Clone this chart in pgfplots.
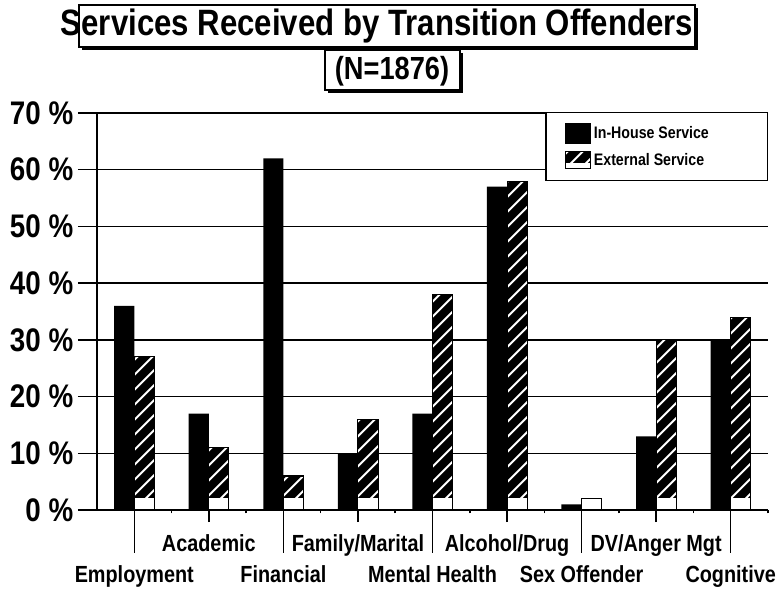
\documentclass[border=0pt]{standalone}
\usepackage{fontspec}
\setmainfont{Liberation Sans}[FakeStretch=0.85]
\usepackage{pgfplots}
\pgfplotsset{compat=1.18}

\pgfplotstableread{
idx inhouse external
0 36 27
1 17 11
2 62 6
3 10 16
4 17 38
5 57 58
6 1 2
7 13 30
8 30 34
}\servicedata

\newcommand{\xl}{\fontsize{17.5}{20}\selectfont\bfseries}
\tikzset{hatchbar/.style={fill=black, path picture={
   \foreach \k in {-50,...,25}
     \draw[path picture={}, white, line width=1.5pt] ([yshift=\k*11.25pt]path picture bounding box.south west) -- ++(600pt,600pt);
   \fill[path picture={}, white] (path picture bounding box.south west) rectangle ([yshift=#1]path picture bounding box.south east);
}}}

\begin{document}
\begin{tikzpicture}
\useasboundingbox (0,0) rectangle (583.5pt,444.75pt);
\begin{scope}[x=0.75pt,y=0.75pt]
% title box
\fill[black] (82,543) rectangle (698,585);
\draw[line width=1.2pt, fill=white] (79,546) rectangle (695,588);
\node[font=\fontsize{27.5}{31}\selectfont\bfseries] at (377,567) {Services Received by Transition Offenders};
\fill[black] (328,500) rectangle (463,540);
\draw[line width=1.2pt, fill=white] (325,503) rectangle (460,543);
\node[font=\fontsize{24}{28}\selectfont\bfseries] at (392,522) {(N=1876)};
\end{scope}
\begin{axis}[
  at={(72.75pt,62.25pt)}, anchor=south west,
  scale only axis, width=503.25pt, height=297.75pt,
  xmin=-0.5, xmax=8.5, ymin=0, ymax=70,
  axis x line=bottom, axis y line=left,
  axis line style={-, line width=1.1pt},
  tick align=outside,
  ytick={0,10,...,70},
  yticklabels={0 \%,10 \%,20 \%,30 \%,40 \%,50 \%,60 \%,70 \%},
  ymajorgrids, grid style={black, line width=1.1pt},
  ytick style={/pgfplots/major tick length=14.25pt, line width=1.1pt, black},
  yticklabel style={font=\fontsize{24.5}{27}\selectfont\bfseries, xshift=-10pt},
  xtick={0,2,4,6,8},
  xticklabels={{\xl Employment},{\xl Financial},{\xl Mental Health},{\xl Sex Offender},{\xl Cognitive}},
  xtick style={/pgfplots/major tick length=32pt, line width=1.1pt, black},
  xticklabel style={font=\xl, yshift=-34pt},
  extra x ticks={1,3,5,7},
  extra x tick labels={{\xl Academic},{\xl Family/Marital},{\xl Alcohol/Drug},{\xl DV/Anger Mgt}},
  extra x tick style={xtick style={/pgfplots/major tick length=9pt},
     xticklabel style={yshift=23pt}},
  minor xtick={0.5,1.5,...,8.5},
  minor tick length=2.5pt,
  minor x tick style={line width=1.1pt, black},
  legend style={at={(1,1.003)}, anchor=north east, draw=black, line width=1.1pt, fill=white,
    font=\fontsize{12.5}{14}\selectfont\bfseries, inner xsep=14pt, inner ysep=8pt, row sep=5pt,
    /tikz/every even column/.append style={column sep=19pt}},
  legend cell align=left,
]
\addplot[ybar, bar width=0.27, bar shift=-0.135, fill=black, draw=none,
  legend image code/.code={\fill[black] (0pt,-7.5pt) rectangle (19pt,8pt);}]
  table[x=idx, y=inhouse] {\servicedata};
\addlegendentry{\makebox[114pt][l]{In-House Service}}
\addplot[ybar, bar width=0.27, bar shift=0.135, hatchbar=8.5pt, draw=black, line width=0.8pt,
  legend image code/.code={\draw[black, line width=0.8pt, hatchbar=4pt] (0pt,-6.5pt) rectangle (19pt,6.5pt);}]
  table[x=idx, y=external] {\servicedata};
\addlegendentry{\makebox[114pt][l]{External Service}}
\end{axis}
\end{tikzpicture}
\end{document}
